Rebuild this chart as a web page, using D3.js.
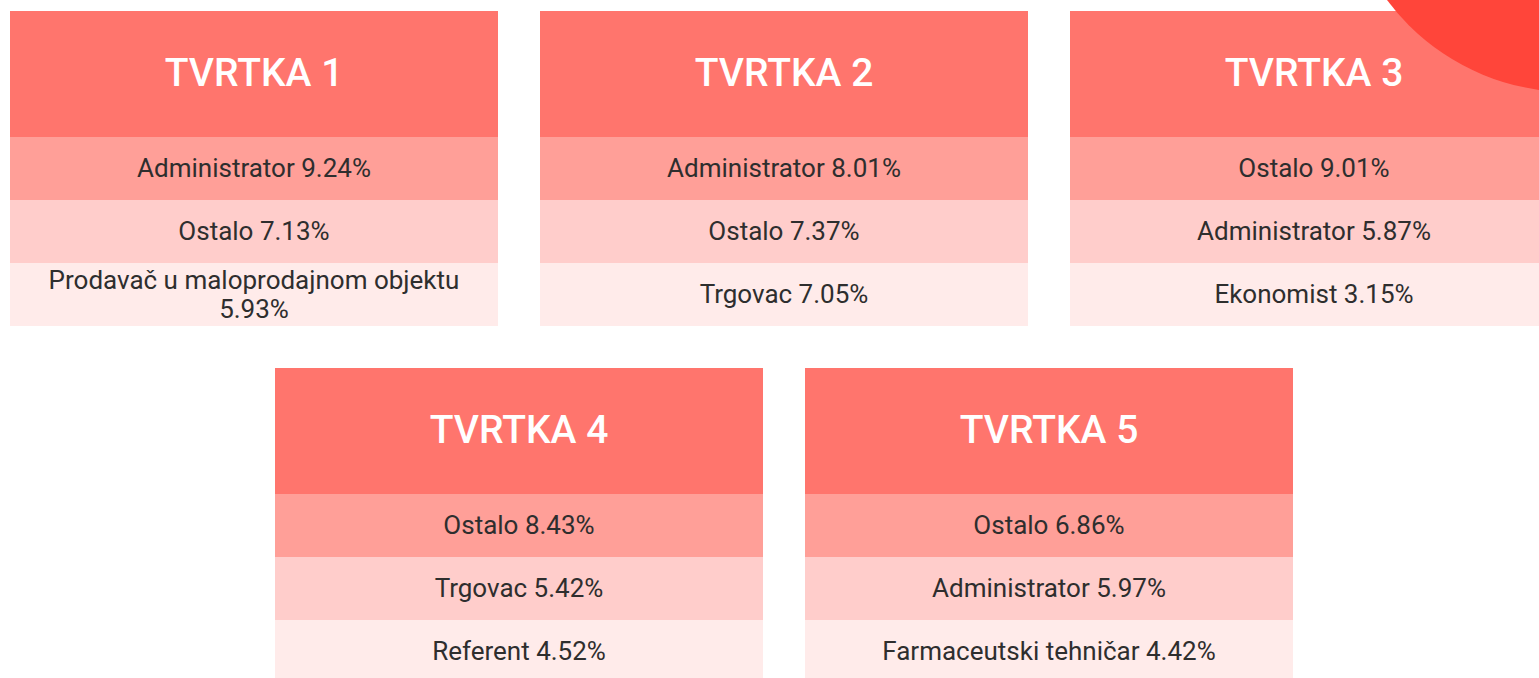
<!DOCTYPE html>
<html>
<head>
<meta charset="utf-8">
<script src="https://cdn.jsdelivr.net/npm/d3@7"></script>
<style>
  html, body { margin: 0; padding: 0; background: #fff; overflow: hidden; }
  body { width: 1539px; height: 678px; position: relative; font-family: Roboto, "Open Sans", sans-serif; }
  .card { position: absolute; width: 488px; }
  .head { height: 126px; background: #ff756d; color: #fff; font-size: 39px; font-weight: 500;
          display: flex; align-items: center; justify-content: center; padding-bottom: 2px; box-sizing: border-box; }
  .row { height: 63px; display: flex; align-items: center; justify-content: center; text-align: center;
         color: #2e2e2e; font-size: 26px; line-height: 29px; padding: 0 12px; box-sizing: border-box; }
  #blob { position: absolute; left: 0; top: 0; pointer-events: none; }
</style>
</head>
<body>
<svg id="blob" width="1539" height="678"></svg>
<script>
var companies = ["TVRTKA 1", "TVRTKA 2", "TVRTKA 3", "TVRTKA 4", "TVRTKA 5"];

var jobs = [
    ["Administrator", "Ostalo", "Prodavač u maloprodajnom objektu"],
    ["Administrator", "Ostalo", "Trgovac"],
    ["Ostalo", "Administrator", "Ekonomist"],
    ["Ostalo", "Trgovac", "Referent"],
    ["Ostalo", "Administrator", "Farmaceutski tehničar"]
];

var shares = [
    [9.24, 7.13, 5.93],
    [8.01, 7.37, 7.05],
    [9.01, 5.87, 3.15],
    [8.43, 5.42, 4.52],
    [6.86, 5.97, 4.42]
];

var rowColor = d3.scaleOrdinal().domain([0, 1, 2]).range(["#ff9f98", "#ffcdcb", "#ffebea"]);

// card positions: 3 on top, 2 centered below
var cardX = [10, 540, 1070, 275, 805];
var cardY = [11, 11, 11, 368, 368];

var cards = d3.select("body").selectAll(".card")
    .data(companies)
    .enter()
    .insert("div", "#blob")
    .attr("class", "card")
    .style("left", function (d, i) { return cardX[i] + "px"; })
    .style("top", function (d, i) { return cardY[i] + "px"; });

cards.append("div")
    .attr("class", "head")
    .text(function (d) { return d; });

cards.each(function (d, i) {
    d3.select(this).selectAll(".row")
        .data(jobs[i])
        .enter()
        .append("div")
        .attr("class", "row")
        .style("background", function (j, k) { return rowColor(k); })
        .text(function (j, k) { return j + " " + shares[i][k].toFixed(2) + "%"; });
});

// red decorative circle in the top right corner
d3.select("#blob").append("circle")
    .attr("cx", 1570)
    .attr("cy", -136)
    .attr("r", 228)
    .attr("fill", "#ff453a");
</script>
</body>
</html>
